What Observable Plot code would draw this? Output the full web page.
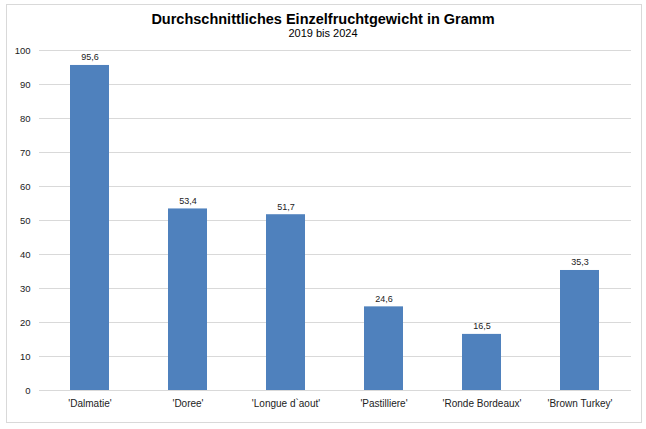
<!DOCTYPE html>
<html>
<head>
<meta charset="utf-8">
<script src="https://cdn.jsdelivr.net/npm/d3@7"></script>
<script src="https://cdn.jsdelivr.net/npm/@observablehq/plot@0.6"></script>
<style>
  html, body { margin: 0; padding: 0; background: #fff; }
  body { width: 646px; height: 429px; position: relative; overflow: hidden; font-family: "Liberation Sans", Arial, sans-serif; }
  #frame { position: absolute; left: 6px; top: 4px; width: 636px; height: 419px; border: 1px solid #d9d9d9; box-sizing: border-box; }
  #title { position: absolute; left: 0; width: 646px; top: 11px; text-align: center; font-weight: bold; font-size: 14.5px; color: #000; line-height: 16px; }
  #subtitle { position: absolute; left: 0; width: 646px; top: 27px; text-align: center; font-size: 11px; color: #000; line-height: 13px; }
  #chart { position: absolute; left: 0; top: 0; }
</style>
</head>
<body>
<div id="frame"></div>
<div id="chart"></div>
<div id="title">Durchschnittliches Einzelfruchtgewicht in Gramm</div>
<div id="subtitle">2019 bis 2024</div>
<script>
const sorten = ["'Dalmatie'", "'Doree'", "'Longue d`aout'", "'Pastilliere'", "'Ronde Bordeaux'", "'Brown Turkey'"];
const gewichte = [95.6, 53.4, 51.7, 24.6, 16.5, 35.3];
const yTicks = [0, 10, 20, 30, 40, 50, 60, 70, 80, 90, 100];

const data = sorten.map((s, i) => ({sorte: s, wert: gewichte[i]}));
const fmt = v => v.toFixed(1).replace(".", ",");

const chart = Plot.plot({
  width: 646,
  height: 429,
  marginTop: 50,
  marginBottom: 39,
  marginLeft: 39,
  marginRight: 15,
  style: {fontFamily: "'Liberation Sans', Arial, sans-serif", fontSize: "9.5px", color: "#000", background: "transparent"},
  x: {domain: sorten, paddingInner: 0.6, paddingOuter: 0.3, label: null},
  y: {domain: [0, 100], label: null},
  marks: [
    Plot.gridY(yTicks, {stroke: "#d9d9d9", strokeOpacity: 1, strokeWidth: 1}),
    Plot.barY(data, {x: "sorte", y: "wert", fill: "#4f81bd"}),
    Plot.ruleY([0], {stroke: "#d9d9d9", strokeWidth: 1}),
    Plot.text(data, {x: "sorte", y: "wert", text: d => fmt(d.wert), dy: -8, fontSize: 9, fill: "#222"}),
    Plot.axisY(yTicks, {tickSize: 0, tickPadding: 9, fontSize: 9.5, fill: "#222", label: null}),
    Plot.axisX({tickSize: 0, tickPadding: 9, fontSize: 10, fill: "#222", label: null})
  ]
});
document.getElementById("chart").appendChild(chart);
</script>
</body>
</html>
